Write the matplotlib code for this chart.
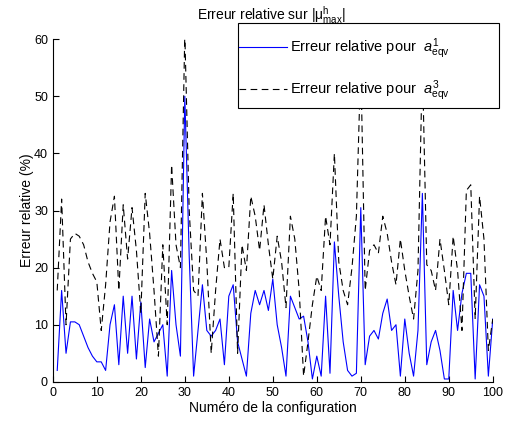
#!/usr/bin/env python3
# -*- coding: utf-8 -*-

import matplotlib
matplotlib.use("Agg")
import matplotlib.pyplot as plt
from matplotlib.patches import Rectangle

plt.rcParams["font.family"] = ["Liberation Sans", "DejaVu Sans"]
plt.rcParams["mathtext.fontset"] = "custom"
plt.rcParams["mathtext.rm"] = "Liberation Sans"
plt.rcParams["mathtext.it"] = "Liberation Sans:italic"

# ---------------- données ----------------

config = list(range(1, 101))

err_a1 = [2, 16, 5, 10.5, 10.5, 10, 8, 6, 4.5, 3.5,
          3.5, 2, 10, 13.5, 3, 15, 5, 15, 4, 14,
          2.5, 11, 7, 8.5, 10, 1, 19.5, 10, 4.5, 50,
          22, 1, 9, 17, 9, 8, 9, 11, 3, 15,
          17, 7, 4, 1, 12, 16, 13.5, 16, 12.5, 18,
          10, 6, 1, 15, 13, 11, 11.5, 7, 0.5, 4.5,
          1, 15, 1.5, 24.5, 15, 7, 2, 1, 1.5, 30.5,
          3, 8, 9, 7.5, 12, 14.5, 9, 10, 1, 11,
          5, 1, 9, 33, 3, 7, 9, 5.5, 0.5, 0.5,
          16, 9, 15.5, 19, 19, 0.5, 17, 15, 1, 11]

err_a3 = [16, 32, 10, 25, 26, 25.5, 24, 21, 19, 17.5,
          9, 17, 28, 32.5, 16, 31, 21.5, 30.5, 23, 12,
          33, 26, 16, 4.5, 24, 10, 38, 24, 20, 61,
          30, 16, 15, 33, 21, 5, 16, 25, 20, 20,
          33, 5, 24, 19.5, 32.5, 29, 23, 31, 24, 18,
          25.5, 21, 13, 29, 25, 16, 1, 7, 13.5, 18.5,
          16, 29, 24, 40, 21, 16, 13.5, 20, 29, 56,
          16, 23, 24, 22.5, 29, 26, 21, 17, 25, 19.5,
          15, 11, 19.5, 56, 20.5, 19.5, 16, 25, 19.5, 13.5,
          25.5, 19.5, 9, 33.5, 34.5, 11, 32.5, 25, 5.5, 11]

xticks = list(range(0, 101, 10))
yticks = list(range(0, 61, 10))

# ---------------- figure ----------------

fig = plt.figure(figsize=(5.08, 4.21), dpi=100)
ax = fig.add_axes([0.104, 0.093, 0.866, 0.814])

ax.plot(config, err_a1, color="#0000ff", lw=0.8,
        label=r"Erreur relative pour  $a_{\mathrm{eqv}}^{1}$")
ax.plot(config, err_a3, color="black", lw=0.8, dashes=(6, 4),
        label=r"Erreur relative pour  $a_{\mathrm{eqv}}^{3}$")

ax.set_xlim(0, 100)
ax.set_ylim(0, 60)
ax.set_xticks(xticks)
ax.set_yticks(yticks)
ax.tick_params(direction="in", length=4, labelsize=9, top=False, right=False)
for s in ("top", "right"):
    ax.spines[s].set_visible(False)

ax.set_xlabel("Numéro de la configuration", fontsize=10, labelpad=2)
ax.set_ylabel("Erreur relative (%)", fontsize=10, labelpad=0)
fig.text(0.535, 0.965, r"Erreur relative sur |μ$_{\mathrm{max}}^{\mathrm{h}}$|",
         ha="center", va="center", fontsize=10)

# légende façon MATLAB : cadre large, texte collé à gauche, au-dessus des courbes
frame = Rectangle((0.4685, 0.7435), 0.514, 0.202, transform=fig.transFigure,
                  facecolor="white", edgecolor="black", lw=0.8, zorder=4)
fig.patches.append(frame)
handles, labels = ax.get_legend_handles_labels()
leg = fig.legend(handles, labels, loc="upper left", bbox_to_anchor=(0.470, 0.914),
                 fontsize=10.5, handlelength=3.3, labelspacing=1.25, borderpad=0,
                 borderaxespad=0, handletextpad=0.2, frameon=False)
leg.set_zorder(5)

fig.savefig("out.png", dpi=100)
